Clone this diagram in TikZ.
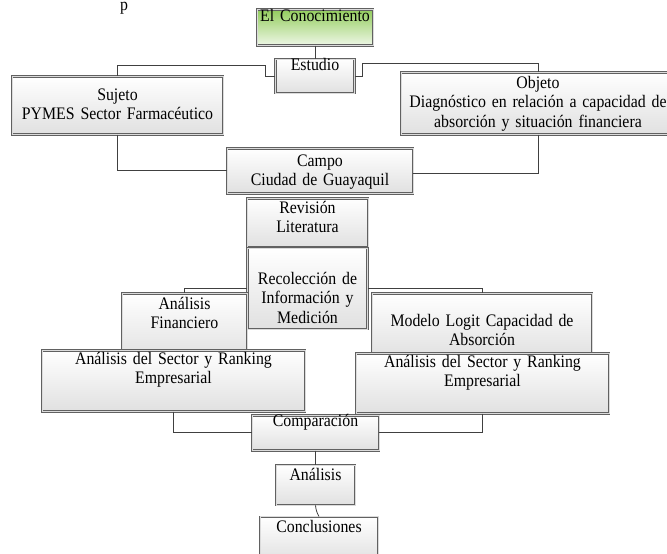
\documentclass[tikz,border=0pt]{standalone}
\usepackage{fontspec}
\setmainfont{Liberation Serif}[FakeStretch=0.9]
\usetikzlibrary{positioning}

\definecolor{verdeA}{RGB}{146,204,92}
\definecolor{verdeB}{RGB}{238,247,230}

\begin{document}
\begin{tikzpicture}[x=1pt, y=-1pt, font=\fontsize{17.6}{19.5}\selectfont]
  \tikzset{
    caja/.style={
      draw=black!62,
      double=black!14,
      double distance=0.9pt,
      line width=0.7pt,
      top color=white,
      bottom color=black!12,
      inner sep=0pt,
      align=center,
      anchor=north},
    verde/.style={
      top color=verdeA,
      bottom color=verdeB},
    medidas/.style n args={3}{
      text width=#1,
      text height=#2,
      text depth=#3},
    linea/.style={
      draw=black!75,
      line width=0.8pt}}

  \useasboundingbox (0,0) rectangle (667,554);
  \clip (0,0) rectangle (667,554);

  \node[anchor=base west, inner sep=0pt] (frag) at (120,10) {p};

  \node[caja, verde, medidas={116pt}{12pt}{24pt}] (conoc) at (315,9) {El Conocimiento};
  \node[caja, medidas={79pt}{11pt}{23pt}] (estudio) [below=13pt of conoc] {Estudio};

  \node[caja, medidas={211pt}{24pt}{34pt}] (sujeto) at (117.5,76) {Sujeto\\PYMES Sector Farmacéutico};
  \node[caja, medidas={274pt}{16pt}{46pt}] (objeto) at (538,72) {Objeto\\Diagnóstico en relación a capacidad de\\absorción y situación financiera};
  \node[caja, medidas={186pt}{18pt}{27pt}] (campo) at (320,148) {Campo\\Ciudad de Guayaquil};

  \node[caja, medidas={121pt}{15pt}{34pt}] (revis) at (307.5,198) {Revisión\\Literatura};
  \node[caja, medidas={120pt}{36pt}{45pt}] (recol) [below=0pt of revis] {Recolección de\\Información y\\Medición};

  \node[caja, medidas={125pt}{16pt}{51pt}] (anfin) at (184.5,293) {Análisis\\Financiero};
  \node[caja, medidas={220pt}{33pt}{32pt}] (logit) at (482,293) {Modelo Logit Capacidad de\\Absorción};

  \node[caja, medidas={263pt}{14pt}{47pt}] (secizq) at (173.5,350) {Análisis del Sector y Ranking\\Empresarial};
  \node[caja, medidas={253pt}{14pt}{46pt}] (secder) at (482.5,353) {Análisis del Sector y Ranking\\Empresarial};

  \node[caja, medidas={127pt}{11pt}{24pt}] (comp) at (315.5,415) {Comparación};
  \node[caja, medidas={79pt}{15pt}{25pt}] (analisis) [below=14pt of comp] {Análisis};
  \node[caja, medidas={118pt}{16pt}{29pt}] (concl) [below=11pt of analisis, xshift=3.5pt] {Conclusiones};

  % conectores
  \path[linea] (conoc) -- (estudio);
  \path[linea] (estudio.west) -- ++(-10,0) -- ++(0,-11) -| (sujeto.north);
  \path[linea] (estudio.east) -- ++(8,0) -- ++(0,-13) -| (objeto.north);
  \path[linea] (sujeto.south) |- (campo.west);
  \path[linea] (objeto.south) |- ([yshift=-3pt]campo.east);

  \path[linea] (recol.west) -| (anfin.north);
  \path[linea] (recol.east) -| (logit.north);

  \path[linea] (secizq.south) |- (comp.west);
  \path[linea] (secder.south) |- (comp.east);
  \path[linea] (comp) -- (analisis);
  \path[linea] (analisis.south) to[bend right=12] (concl.north);

\end{tikzpicture}
\end{document}
